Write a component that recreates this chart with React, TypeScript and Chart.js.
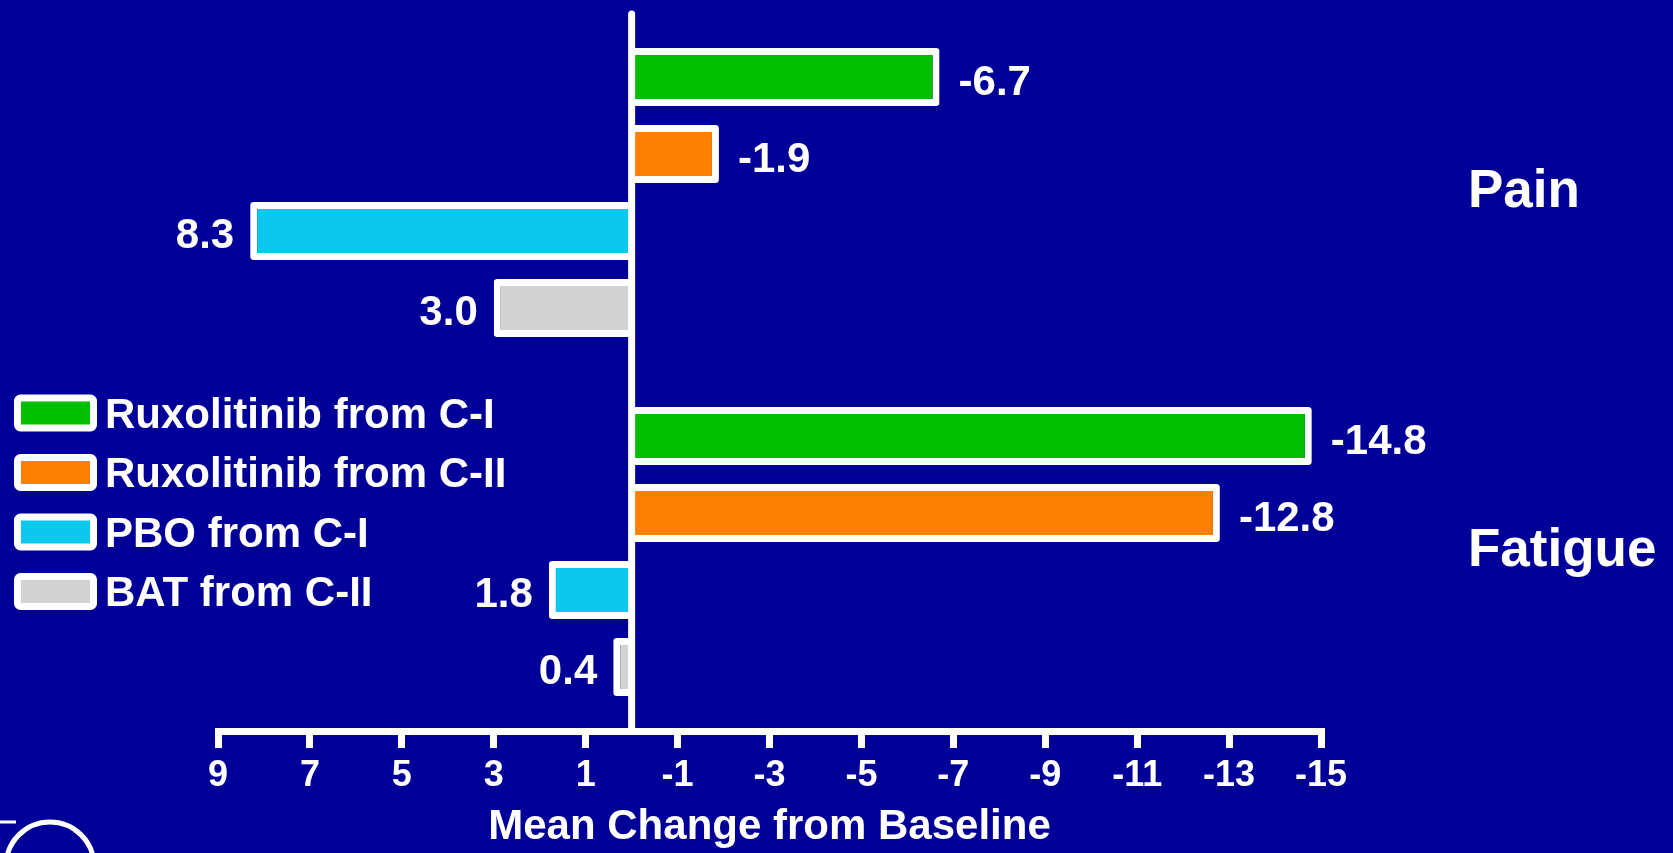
import React, { useEffect, useRef } from 'react';
import { Chart, registerables } from 'chart.js';

Chart.register(...registerables);

// ---- data ----
const categories = ['Pain', 'Fatigue'];
const seriesNames = ['Ruxolitinib from C-I', 'Ruxolitinib from C-II', 'PBO from C-I', 'BAT from C-II'];
const ruxolitinibFromCI = [-6.7, -14.8];
const ruxolitinibFromCII = [-1.9, -12.8];
const pboFromCI = [8.3, 1.8];
const batFromCII = [3.0, 0.4];
const seriesColors = ['#00BF00', '#FF8000', '#0CC8EE', '#D3D3D3'];
const xMin = -15;
const xMax = 9;
const xStep = 2;
const xTitle = 'Mean Change from Baseline';

const BG = '#000099';
const FONT = "'Liberation Sans', Arial, sans-serif";

const zeroLinePlugin = {
  id: 'zeroLine',
  afterDatasetsDraw(chart: any) {
    const { ctx, chartArea, scales } = chart;
    const x = scales.x.getPixelForValue(0);
    ctx.save();
    ctx.strokeStyle = '#FFFFFF';
    ctx.lineWidth = 7;
    ctx.lineCap = 'round';
    ctx.beginPath();
    ctx.moveTo(x, chartArea.top + 1);
    ctx.lineTo(x, chartArea.bottom);
    ctx.stroke();
    ctx.restore();
  },
};

const valueLabelPlugin = {
  id: 'valueLabels',
  afterDatasetsDraw(chart: any) {
    const { ctx } = chart;
    ctx.save();
    ctx.fillStyle = '#FFFFFF';
    ctx.font = `bold 42px ${FONT}`;
    ctx.textBaseline = 'middle';
    chart.data.datasets.forEach((ds: any, di: number) => {
      const meta = chart.getDatasetMeta(di);
      meta.data.forEach((bar: any, i: number) => {
        const v = ds.data[i] as number;
        const txt = v.toFixed(1);
        if (v < 0) {
          ctx.textAlign = 'left';
          ctx.fillText(txt, bar.x + 19, bar.y + 6);
        } else {
          ctx.textAlign = 'right';
          ctx.fillText(txt, bar.x - 16, bar.y + 5);
        }
      });
    });
    ctx.restore();
  },
};

const legendPlugin = {
  id: 'boxLegend',
  afterDraw(chart: any) {
    const { ctx } = chart;
    ctx.save();
    const startY = 413;
    const gap = 59.5;
    chart.data.datasets.forEach((ds: any, i: number) => {
      const cy = startY + i * gap;
      const x = 17.5;
      const w = 76;
      const h = 30;
      ctx.beginPath();
      ctx.roundRect(x, cy - h / 2, w, h, 3);
      ctx.fillStyle = ds.backgroundColor;
      ctx.fill();
      ctx.lineWidth = 7;
      ctx.strokeStyle = '#FFFFFF';
      ctx.stroke();
      ctx.fillStyle = '#FFFFFF';
      ctx.font = `bold 42px ${FONT}`;
      ctx.textAlign = 'left';
      ctx.textBaseline = 'middle';
      ctx.fillText(ds.label, 105, cy + 3);
    });
    // partial logo circle at bottom-left
    ctx.beginPath();
    ctx.strokeStyle = '#FFFFFF';
    ctx.lineWidth = 5;
    ctx.arc(50, 866, 44, 0, Math.PI * 2);
    ctx.stroke();
    ctx.beginPath();
    ctx.lineWidth = 3;
    ctx.moveTo(0, 822);
    ctx.lineTo(16, 822);
    ctx.stroke();
    ctx.restore();
  },
};

export default function App() {
  const canvasRef = useRef<HTMLCanvasElement | null>(null);

  useEffect(() => {
    if (!canvasRef.current) return;
    const seriesValues = [ruxolitinibFromCI, ruxolitinibFromCII, pboFromCI, batFromCII];
    const chart = new Chart(canvasRef.current, {
      type: 'bar',
      data: {
        labels: categories,
        datasets: seriesValues.map((vals, i) => ({
          label: seriesNames[i],
          data: vals,
          backgroundColor: seriesColors[i],
          borderColor: '#FFFFFF',
          borderWidth: 7,
          borderRadius: 3,
          categoryPercentage: 0.858,
          barPercentage: 0.753,
        })),
      },
      options: {
        indexAxis: 'y',
        animation: false,
        responsive: false,
        layout: { padding: { top: 13, left: 218, right: 0, bottom: 0 } },
        plugins: {
          legend: { display: false },
          tooltip: { enabled: false },
        },
        scales: {
          x: {
            type: 'linear',
            min: xMin,
            max: xMax,
            reverse: true,
            afterFit: (scale: any) => {
              scale.height = 122;
            },
            ticks: {
              stepSize: xStep,
              autoSkip: false,
              maxRotation: 0,
              color: '#FFFFFF',
              padding: 6,
              font: { family: FONT, size: 36, weight: 'bold' },
              callback: (v: any) => String(v),
            },
            grid: {
              drawOnChartArea: false,
              drawTicks: true,
              tickLength: 17,
              color: '#FFFFFF',
              lineWidth: 7,
            },
            border: { display: true, color: '#FFFFFF', width: 7 },
            title: {
              display: true,
              text: xTitle,
              color: '#FFFFFF',
              padding: 0,
              font: { family: FONT, size: 42, weight: 'bold' },
            },
          },
          y: {
            type: 'category',
            position: 'right',
            afterFit: (scale: any) => {
              scale.width = 352;
              scale.paddingTop = 0;
              scale.paddingBottom = 0;
            },
            ticks: {
              color: '#FFFFFF',
              padding: 0,
              font: { family: FONT, size: 53, weight: 'bold' },
            },
            grid: {
              display: true,
              drawOnChartArea: false,
              drawTicks: true,
              tickLength: 147,
              color: 'rgba(0,0,0,0)',
            },
            border: { display: false },
          },
        },
      },
      plugins: [zeroLinePlugin, valueLabelPlugin, legendPlugin],
    } as any);
    return () => chart.destroy();
  }, []);

  return (
    <div
      style={{
        position: 'fixed',
        left: 0,
        top: 0,
        width: 1673,
        height: 853,
        background: BG,
        overflow: 'hidden',
      }}
    >
      <canvas ref={canvasRef} width={1673} height={853} style={{ display: 'block' }} />
    </div>
  );
}
